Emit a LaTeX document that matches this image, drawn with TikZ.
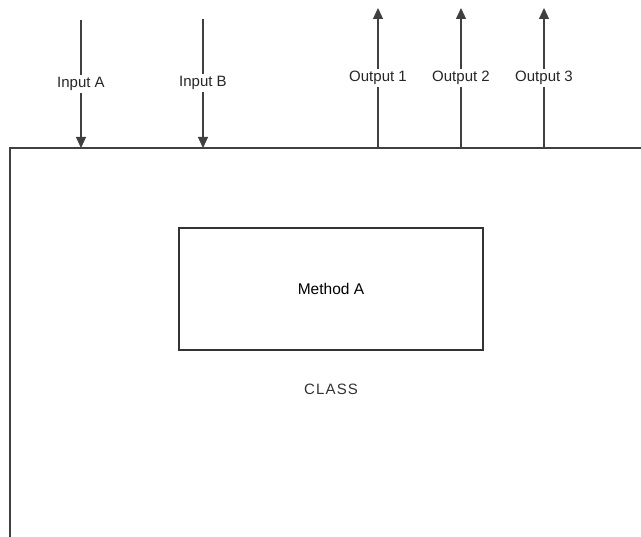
\documentclass[tikz,border=0pt]{standalone}
\usepackage{fontspec}
\setmainfont{Liberation Sans}
\usetikzlibrary{arrows.meta}
\begin{document}
\begin{tikzpicture}[x=1pt,y=-1pt,
  ln/.style={draw=black!75,line width=1.2pt},
  arr/.style={ln,-{Triangle[width=10pt,length=11pt]}},
  lbl/.style={fill=white,inner sep=2pt,font=\fontsize{15}{17}\selectfont,text=black!85},
  box/.style={draw=black!80,line width=1.6pt,minimum width=304pt,minimum height=122pt,font=\fontsize{15.5}{17}\selectfont}]
\useasboundingbox (0,0) rectangle (641,537);
% class outline (cut off at right and bottom)
\coordinate (cbl) at (10,537);
\coordinate (ctl) at (10,148);
\coordinate (ctr) at (641,148);
\draw[ln] (cbl) -- (ctl) -- (ctr);
% inputs
\coordinate (ia0) at (81,20);  \coordinate (ia1) at (81,148);
\coordinate (ib0) at (203,19); \coordinate (ib1) at (203,148);
\draw[arr] (ia0) -- (ia1);
\draw[arr] (ib0) -- (ib1);
\node[lbl] (ia) at (81,84) {Input A};
\node[lbl] (ib) at (203,83) {Input B};
% outputs
\coordinate (o10) at (378,148); \coordinate (o11) at (378,8);
\coordinate (o20) at (461,148); \coordinate (o21) at (461,8);
\coordinate (o30) at (544,148); \coordinate (o31) at (544,8);
\draw[arr] (o10) -- (o11);
\draw[arr] (o20) -- (o21);
\draw[arr] (o30) -- (o31);
\node[lbl] (o1) at (378,78) {Output 1};
\node[lbl] (o2) at (461,78) {Output 2};
\node[lbl] (o3) at (544,78) {Output 3};
% method
\node[box] (m) at (331,289) {Method A};
\node[font=\fontsize{15}{17}\selectfont\addfontfeature{LetterSpace=8},text=black!80] (cls) at (331,389) {CLASS};
\end{tikzpicture}
\end{document}
